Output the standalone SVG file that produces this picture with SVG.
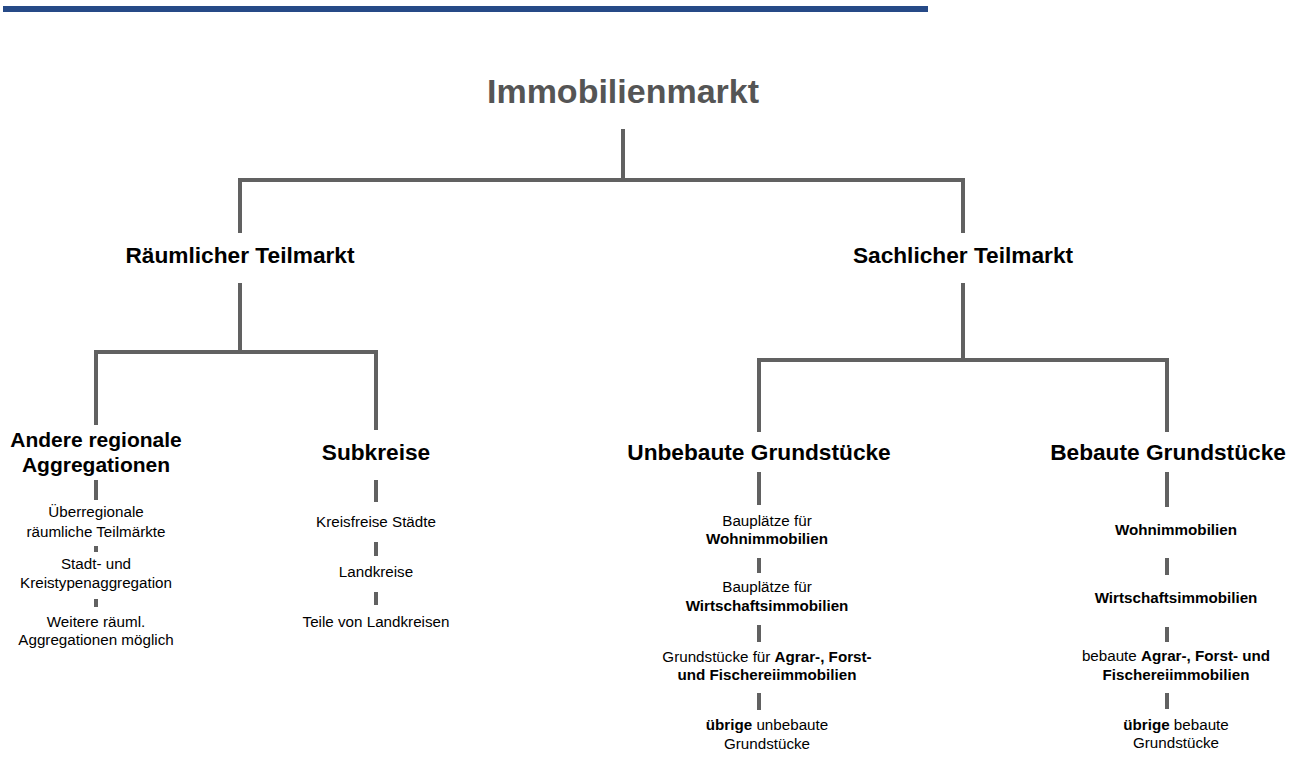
<svg xmlns="http://www.w3.org/2000/svg" width="1301" height="758" viewBox="0 0 1301 758">
<style>
text{font-family:"Liberation Sans",Arial,sans-serif;text-anchor:middle;fill:#000}
.root{font-size:34px;font-weight:bold;fill:#555}
.l1{font-size:22.7px;font-weight:bold}
.l2{font-size:22.7px;font-weight:bold}
.sm{font-size:15.2px}
.b{font-weight:bold}
.ln{fill:none;stroke:#616161;stroke-width:4;stroke-linejoin:miter;stroke-linecap:butt}
</style>
<rect x="3" y="6" width="925" height="6" fill="#264a87"/>
<g id="connectors">
<path class="ln" d="M623,129V180M240,233V180H963V233"/>
<path class="ln" d="M240,283V352M96,425V352H376V430"/>
<path class="ln" d="M963,283V360M759,432V360H1167V432"/>
<path class="ln" d="M96,480V500M96,546V552M96,599V607"/>
<path class="ln" d="M376,480V502M376,542V556M376,592V605"/>
<path class="ln" d="M759,472V505M759,558V573M759,625V642M759,693V710"/>
<path class="ln" d="M1167,472V507M1167,558V575M1167,627V642M1167,693V709"/>
</g>
<g id="immobilienmarkt"><text class="root" x="623" y="103">Immobilienmarkt</text></g>
<g id="raeumlich"><text class="l1" x="240" y="263">Räumlicher Teilmarkt</text></g>
<g id="sachlich"><text class="l1" x="963" y="263">Sachlicher Teilmarkt</text></g>
<g id="andere"><text class="l2" x="96" y="447" style="font-size:21px">Andere regionale</text><text class="l2" x="96" y="472" style="font-size:21px">Aggregationen</text></g>
<g id="subkreise"><text class="l2" x="376" y="460">Subkreise</text></g>
<g id="unbebaut"><text class="l2" x="759" y="460">Unbebaute Grundstücke</text></g>
<g id="bebaut"><text class="l2" x="1168" y="460">Bebaute Grundstücke</text></g>
<g id="ueberregional"><text class="sm" x="96" y="517">Überregionale</text><text class="sm" x="96" y="537">räumliche Teilmärkte</text></g>
<g id="stadtkreis"><text class="sm" x="96" y="569">Stadt- und</text><text class="sm" x="96" y="588">Kreistypenaggregation</text></g>
<g id="weitere"><text class="sm" x="96" y="627">Weitere räuml.</text><text class="sm" x="96" y="645">Aggregationen möglich</text></g>
<g id="kreisfrei"><text class="sm" x="376" y="527">Kreisfreise Städte</text></g>
<g id="landkreise"><text class="sm" x="376" y="577">Landkreise</text></g>
<g id="teile"><text class="sm" x="376" y="627">Teile von Landkreisen</text></g>
<g id="u-wohn"><text class="sm" x="767" y="526">Bauplätze für</text><text class="sm b" x="767" y="544">Wohnimmobilien</text></g>
<g id="u-wirt"><text class="sm" x="767" y="592">Bauplätze für</text><text class="sm b" x="767" y="611">Wirtschaftsimmobilien</text></g>
<g id="u-agrar"><text class="sm" x="767" y="662">Grundstücke für <tspan class="b">Agrar-, Forst-</tspan></text><text class="sm b" x="767" y="680">und Fischereiimmobilien</text></g>
<g id="u-uebrig"><text class="sm" x="767" y="730"><tspan class="b">übrige</tspan> unbebaute</text><text class="sm" x="767" y="749">Grundstücke</text></g>
<g id="b-wohn"><text class="sm b" x="1176" y="535">Wohnimmobilien</text></g>
<g id="b-wirt"><text class="sm b" x="1176" y="603">Wirtschaftsimmobilien</text></g>
<g id="b-agrar"><text class="sm" x="1176" y="661">bebaute <tspan class="b">Agrar-, Forst- und</tspan></text><text class="sm b" x="1176" y="680">Fischereiimmobilien</text></g>
<g id="b-uebrig"><text class="sm" x="1176" y="730"><tspan class="b">übrige</tspan> bebaute</text><text class="sm" x="1176" y="748">Grundstücke</text></g>
</svg>
